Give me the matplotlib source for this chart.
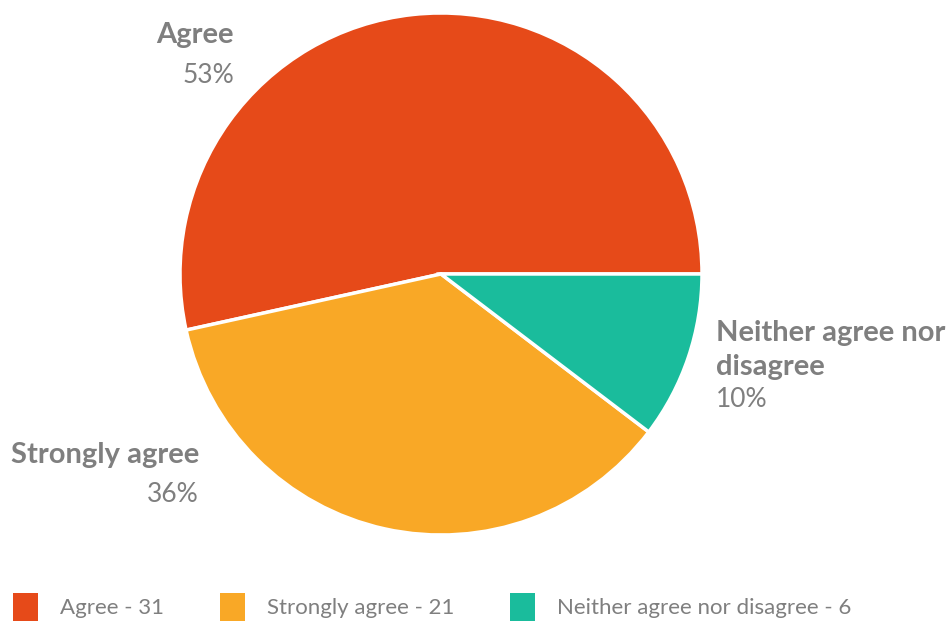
import matplotlib.pyplot as plt

categories = ["Agree", "Strongly agree", "Neither agree nor disagree"]
counts = [31, 21, 6]
colors = ["#E64A19", "#F9A826", "#1ABC9C"]
label_lines = [["Agree"], ["Strongly agree"], ["Neither agree nor", "disagree"]]

W, H = 948, 624
fig = plt.figure(figsize=(W / 100, H / 100), dpi=100)

# pie centre at (441, 274) px, radius 261 px
cx, cy, r = 441, 274, 261
ax = fig.add_axes([(cx - r) / W, (H - cy - r) / H, 2 * r / W, 2 * r / H])
wedges, _ = ax.pie(counts, colors=colors, startangle=0, counterclock=True,
                   radius=1.0, wedgeprops=dict(edgecolor="white", linewidth=2.5))
ax.set_xlim(-1, 1)
ax.set_ylim(-1, 1)
ax.set_aspect("equal")
ax.axis("off")

total = sum(counts)
pcts = [round(c / total * 100) for c in counts]

font = "Lato"
grey = "#7F7F7F"

# label anchor x, name y (first line), percent y, alignment -- in pixels
spots = [(234, 33, 73, "right"), (199, 452, 492, "right"), (716, 331, 397, "left")]
for lines, pct, (x, y, py, ha) in zip(label_lines, pcts, spots):
    for i, line in enumerate(lines):
        fig.text(x / W, 1 - (y + 33 * i) / H, line, ha=ha, va="center_baseline",
                 fontsize=21, fontweight="bold", color=grey, family=font)
    fig.text(x / W, 1 - py / H, f"{pct}%", ha=ha, va="center_baseline",
             fontsize=19, fontweight="normal", color=grey, family=font)

legend_labels = [f"{c} - {n}" for c, n in zip(categories, counts)]
leg = fig.legend(wedges, legend_labels, loc="lower left",
                 bbox_to_anchor=(13 / W, 3 / H), borderaxespad=0, borderpad=0,
                 ncol=3, frameon=False, handlelength=1.12, handleheight=1.55,
                 handletextpad=1.0, columnspacing=2.5,
                 prop=dict(family=font, size=16, weight="normal"), labelcolor=grey)
for h in leg.legend_handles:
    h.set_linewidth(0)

fig.savefig("out.png", dpi=100)
